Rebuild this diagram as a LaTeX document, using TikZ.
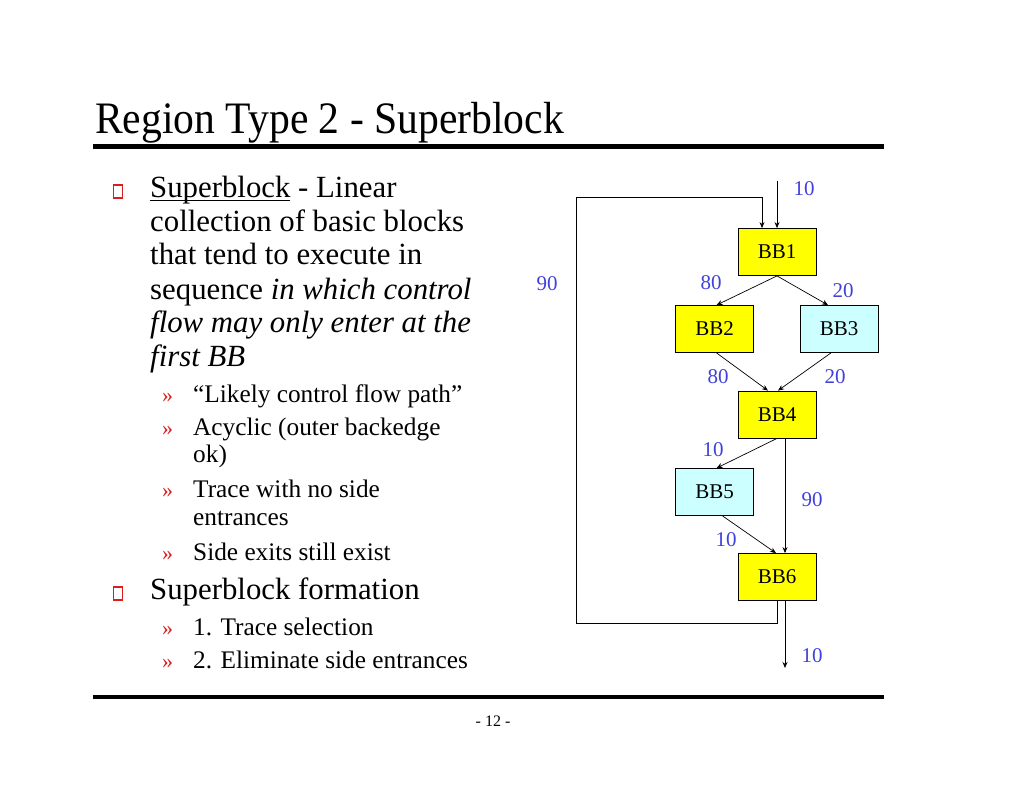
\documentclass[tikz,border=0pt]{standalone}
\usepackage{fontspec}
\setmainfont{Liberation Serif}
\usetikzlibrary{arrows.meta}
\definecolor{lblblue}{RGB}{64,64,220}
\definecolor{bbyellow}{RGB}{255,255,0}
\definecolor{bbcyan}{RGB}{204,255,255}
\definecolor{bulred}{RGB}{220,30,30}
\newcommand\myul[1]{\setbox0\hbox{#1}\rlap{\rule[-3.5pt]{\wd0}{1.1pt}}#1}
\begin{document}
\begin{tikzpicture}[x=1pt,y=-1pt,
  bb/.style={draw, line width=0.8pt, minimum width=78pt, minimum height=47pt, inner sep=0pt, font=\fontsize{21}{24}\selectfont},
  yel/.style={bb, fill=bbyellow},
  cyn/.style={bb, fill=bbcyan},
  lbl/.style={text=lblblue, inner sep=0pt, font=\fontsize{21}{24}\selectfont},
  edge/.style={-{Stealth[length=6pt,width=5pt]}, line width=0.7pt},
  body/.style={anchor=base west, inner sep=0pt, font=\fontsize{30.8}{34}\selectfont},
  sub/.style={anchor=base west, inner sep=0pt, font=\fontsize{25.3}{28}\selectfont},
  rarr/.style={anchor=base west, inner sep=0pt, text=bulred, font=\fontsize{22}{24}\selectfont},
  sqbul/.style={draw=bulred, line width=1.5pt, minimum width=9pt, minimum height=13pt, inner sep=0pt},
  rule/.style={line width=5pt}
]
\useasboundingbox (0,0) rectangle (1024,791);
% title and rules
\node[anchor=base west, inner sep=0pt, font=\fontsize{45}{50}\selectfont] (title) at (95,134) {\scalebox{0.925}[1]{Region Type 2 - Superblock}};
\coordinate (r1a) at (93,147); \coordinate (r1b) at (884,147);
\draw[rule] (r1a) -- (r1b);
\coordinate (r2a) at (93,697); \coordinate (r2b) at (884,697);
\draw[line width=4.5pt] (r2a) -- (r2b);
\node[anchor=base, inner sep=0pt, font=\fontsize{16}{18}\selectfont] (pg) at (493,726) {- 12 -};
% bullets
\node[sqbul] (b1) at (118,191.5) {};
\node[body] (t1) at (150,198) {\myul{Superblock} - Linear};
\node[body] (t2) at (150,232) {collection of basic blocks};
\node[body] (t3) at (150,265) {that tend to execute in};
\node[body] (t4) at (150,299) {sequence \textit{in which control}};
\node[body] (t5) at (150,332) {\textit{flow may only enter at the}};
\node[body] (t6) at (150,366) {\textit{first BB}};
\node[rarr] (a1) at (162,402) {»};
\node[sub] (s1) at (193,402) {“Likely control flow path”};
\node[rarr] (a2) at (162,435) {»};
\node[sub] (s2) at (193,435) {Acyclic (outer backedge};
\node[sub] (s2b) at (193,462) {ok)};
\node[rarr] (a3) at (162,497) {»};
\node[sub] (s3) at (193,497) {Trace with no side};
\node[sub] (s3b) at (193,525) {entrances};
\node[rarr] (a4) at (162,560) {»};
\node[sub] (s4) at (193,560) {Side exits still exist};
\node[sqbul] (b2) at (118,593.5) {};
\node[body] (t7) at (150,599) {Superblock formation};
\node[rarr] (a5) at (162,635) {»};
\node[sub] (s5) at (193,635) {1. Trace selection};
\node[rarr] (a6) at (162,668) {»};
\node[sub] (s6) at (193,668) {2. Eliminate side entrances};
% CFG nodes
\node[yel] (BB1) at (777,252) {BB1};
\node[yel] (BB2) at (714.5,329) {BB2};
\node[cyn] (BB3) at (839,329) {BB3};
\node[yel] (BB4) at (777,414.5) {BB4};
\node[cyn] (BB5) at (714.5,492) {BB5};
\node[yel] (BB6) at (777,577) {BB6};
% edges
\coordinate (entry) at (777,181);
\draw[edge] (entry) -- (BB1.north);
\draw[edge] (BB1.south) -- ([xshift=2pt]BB2.north);
\draw[edge] (BB1.south) -- ([xshift=-11pt]BB3.north);
\draw[edge] ([xshift=2pt]BB2.south) -- ([xshift=-9pt]BB4.north);
\draw[edge] ([xshift=-8pt]BB3.south) -- ([xshift=1pt]BB4.north);
\draw[edge] (BB4.south) -- ([xshift=2pt]BB5.north);
\draw[edge] ([xshift=8pt]BB4.south) -- ([xshift=8pt]BB6.north);
\draw[edge] ([xshift=8pt]BB5.south) -- ([xshift=-1pt]BB6.north);
\coordinate (bl) at (576,623);
\coordinate (tl) at (576,197);
\draw[edge] (BB6.south) |- (bl) -- (tl) -| ([xshift=-15pt]BB1.north);
\coordinate (exit) at (785,668);
\draw[edge] ([xshift=8pt]BB6.south) -- (exit);
% labels
\node[lbl] (l1) at (804,189) {10};
\node[lbl] (l2) at (547,284) {90};
\node[lbl] (l3) at (711,283) {80};
\node[lbl] (l4) at (843,291) {20};
\node[lbl] (l5) at (718,377) {80};
\node[lbl] (l6) at (835,377) {20};
\node[lbl] (l7) at (713,450) {10};
\node[lbl] (l8) at (812,500) {90};
\node[lbl] (l9) at (726,540) {10};
\node[lbl] (l10) at (812,656) {10};
\end{tikzpicture}
\end{document}
